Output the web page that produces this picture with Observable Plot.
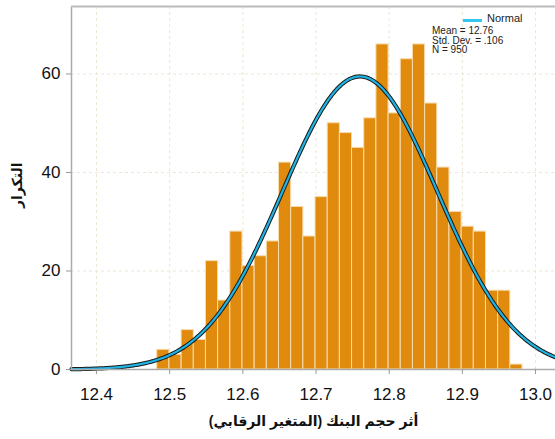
<!DOCTYPE html>
<html>
<head>
<meta charset="utf-8">
<script src="https://cdn.jsdelivr.net/npm/d3@7"></script>
<script src="https://cdn.jsdelivr.net/npm/@observablehq/plot@0.6"></script>
<style>
  body { margin: 0; background: #fff; }
  #wrap { position: relative; width: 555px; height: 439px; overflow: hidden; font-family: "Liberation Sans", Arial, "DejaVu Sans", sans-serif; }
  #legend { position: absolute; left: 432px; top: 15px; font-size: 10px; line-height: 9.6px; color: #222; }
  #legend .row1 { position: relative; height: 11px; }
  #legend .swatch { position: absolute; left: 31px; top: 4px; width: 19px; height: 3px; background: #35c8ee; }
  #legend .name { position: absolute; left: 55px; top: -1px; font-size: 11px; }
</style>
</head>
<body>
<div id="wrap">
  <div id="chart"></div>
  <div id="legend">
    <div class="row1"><span class="swatch"></span><span class="name">Normal</span></div>
    <div>Mean = 12.76</div>
    <div>Std. Dev. = .106</div>
    <div>N = 950</div>
  </div>
</div>
<script>
// Histogram of bank size (log), 30 equal-width bins
const binStart = 12.483;
const binWidth = 0.01664;
const counts = [4, 3, 8, 6, 22, 14, 28, 21, 23, 26,
                42, 33, 27, 35, 50, 48, 45, 51, 66, 52,
                63, 66, 54, 41, 32, 29, 28, 16, 16, 1];

// Fitted normal summary
const mean = 12.76;
const stdDev = 0.106;
const n = 950;

const xTicks = [12.4, 12.5, 12.6, 12.7, 12.8, 12.9, 13.0];
const yTicks = [0, 20, 40, 60];
const xDomain = [12.3658, 13.0273];
const yDomain = [0, 73.7];

const xTitle = "أثر حجم البنك (المتغير الرقابي)";
const yTitle = "التكرار";

const bins = counts.map((c, i) => ({
  x1: binStart + i * binWidth,
  x2: binStart + (i + 1) * binWidth,
  count: c
}));

// Normal density scaled to counts per bin
const curve = d3.range(0, 401).map(i => {
  const x = xDomain[0] + (xDomain[1] - xDomain[0]) * i / 400;
  const z = (x - mean) / stdDev;
  return { x, y: n * binWidth * Math.exp(-0.5 * z * z) / (stdDev * Math.sqrt(2 * Math.PI)) };
});

const grid = { stroke: "#ece6d2", strokeDasharray: "3,3", strokeOpacity: 1, strokeWidth: 1 };

const chart = Plot.plot({
  width: 555,
  height: 439,
  marginLeft: 71,
  marginRight: 0,
  marginTop: 6,
  marginBottom: 70,
  style: { fontFamily: "\"Liberation Sans\", Arial, \"DejaVu Sans\", sans-serif", background: "#fff", overflow: "hidden" },
  x: { domain: xDomain, label: null },
  y: { domain: yDomain, label: null },
  marks: [
    Plot.ruleX(xTicks, grid),
    Plot.ruleY(yTicks.filter(d => d > 0), grid),
    Plot.rectY(bins, { x1: "x1", x2: "x2", y1: 0, y2: "count", fill: "#e18b0e", stroke: "#f7dcae", strokeWidth: 1, inset: 0 }),
    Plot.line(curve, { x: "x", y: "y", stroke: "#1a1a1a", strokeWidth: 4.2 }),
    Plot.line(curve, { x: "x", y: "y", stroke: "#1fb3e2", strokeWidth: 2.2 }),
    Plot.ruleX([xDomain[0]], { stroke: "#aaaaaa", strokeWidth: 1.5 }),
    Plot.ruleY([0], { stroke: "#aaaaaa", strokeWidth: 1.5 }),
    Plot.ruleY([yDomain[1]], { stroke: "#bbbbbb", strokeWidth: 2 }),
    Plot.axisX(xTicks, { tickFormat: d => d.toFixed(1), tickSize: 5, tickPadding: 13, fontSize: 17, stroke: "#999", fill: "#111" }),
    Plot.axisY(yTicks, { tickSize: 5, tickPadding: 6, fontSize: 17, stroke: "#999", fill: "#111" }),
    Plot.text([xTitle], { frameAnchor: "bottom", dy: 56, fontSize: 14, fontWeight: "bold", fill: "#111", text: d => d }),
    Plot.text([yTitle], { frameAnchor: "left", dx: -54, dy: 20, rotate: -90, fontSize: 14, fontWeight: "bold", fill: "#111", text: d => d })
  ]
});
document.getElementById("chart").appendChild(chart);
</script>
</body>
</html>
